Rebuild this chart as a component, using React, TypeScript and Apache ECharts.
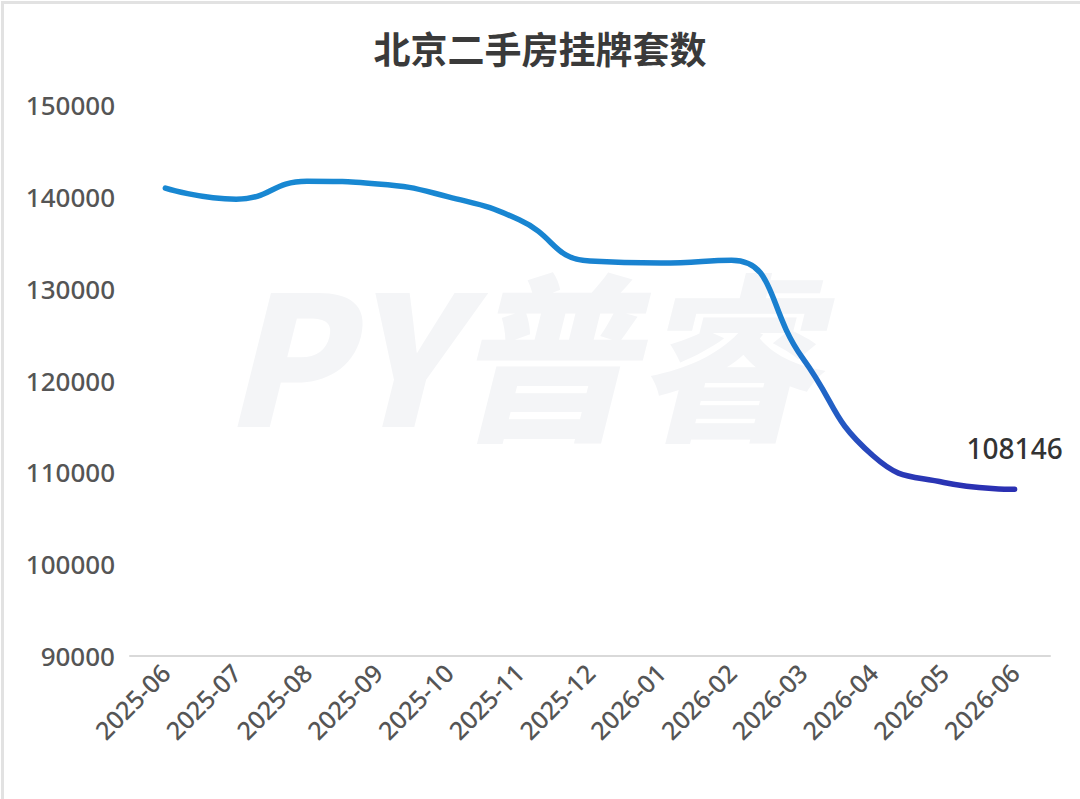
import React, { useEffect, useRef } from "react";
import * as echarts from "echarts";

const months = [
  "2025-06", "2025-07", "2025-08", "2025-09", "2025-10", "2025-11", "2025-12",
  "2026-01", "2026-02", "2026-03", "2026-04", "2026-05", "2026-06",
];
const listings = [
  140950, 139750, 141700, 141400, 140000, 137500, 133000,
  132800, 133100, 122500, 111800, 108900, 108146,
];
const titleText = "北京二手房挂牌套数";
const watermarkText = "PY普睿";

export default function App() {
  const ref = useRef<HTMLDivElement>(null);
  useEffect(() => {
    document.body.style.margin = "0";
    if (!ref.current) return;
    const chart = echarts.init(ref.current, null, { renderer: "svg" });
    const lastIdx = listings.length - 1;
    chart.setOption({
      animation: false,
      backgroundColor: "#ffffff",
      title: {
        text: titleText,
        left: "center",
        top: 24,
        textStyle: {
          fontFamily: "Noto Sans CJK SC",
          fontWeight: "bold",
          fontSize: 37,
          color: "#3a3a3a",
        },
      },
      graphic: [
        {
          type: "rect",
          left: 0,
          top: 0,
          shape: { width: 1080, height: 799 },
          style: { fill: "none", stroke: "#e2e2e2", lineWidth: 3 },
          silent: true,
          z: -10,
        },
        {
          type: "text",
          left: 222,
          top: 258,
          z: -5,
          silent: true,
          style: {
            text: watermarkText,
            fontFamily: "Noto Sans CJK SC",
            fontWeight: 900,
            fontStyle: "italic",
            fontSize: 180,
            fill: "#f4f5f7",
          },
        },
      ],
      grid: { left: 130, right: 30, top: 105, bottom: 143, containLabel: false },
      xAxis: {
        type: "category",
        data: months,
        boundaryGap: true,
        axisLine: { show: true, lineStyle: { color: "#d9d9d9", width: 2 } },
        axisTick: { show: false },
        axisLabel: {
          rotate: 45,
          margin: 12,
          fontSize: 25,
          fontWeight: 500,
          color: "#555555",
          fontFamily: "Noto Sans",
        },
      },
      yAxis: {
        type: "value",
        min: 90000,
        max: 150000,
        interval: 10000,
        axisLine: { show: false },
        axisTick: { show: false },
        splitLine: { show: false },
        axisLabel: {
          margin: 15,
          fontSize: 26,
          fontWeight: 500,
          color: "#555555",
          fontFamily: "Noto Sans",
          formatter: (v: number) => String(v),
        },
      },
      series: [
        {
          type: "line",
          data: listings.map((v, i) =>
            i === lastIdx
              ? {
                  value: v,
                  label: {
                    show: true,
                    position: "top",
                    distance: 27,
                    fontSize: 28,
                    fontWeight: 500,
                    color: "#333333",
                    fontFamily: "Noto Sans",
                    formatter: (p: any) => String(p.value),
                  },
                }
              : v
          ),
          smooth: 0.5,
          symbol: "circle",
          symbolSize: 0,
          showSymbol: true,
          itemStyle: { color: "rgba(0,0,0,0)" },
          lineStyle: {
            width: 5.5,
            cap: "round",
            color: new echarts.graphic.LinearGradient(0, 0, 0, 1, [
              { offset: 0, color: "#1888d2" },
              { offset: 0.5, color: "#1a7ecf" },
              { offset: 0.8, color: "#2556c2" },
              { offset: 1, color: "#2b30b2" },
            ]),
          },
        },
      ],
    });
    return () => chart.dispose();
  }, []);
  return <div ref={ref} style={{ width: 1080, height: 799 }} />;
}
